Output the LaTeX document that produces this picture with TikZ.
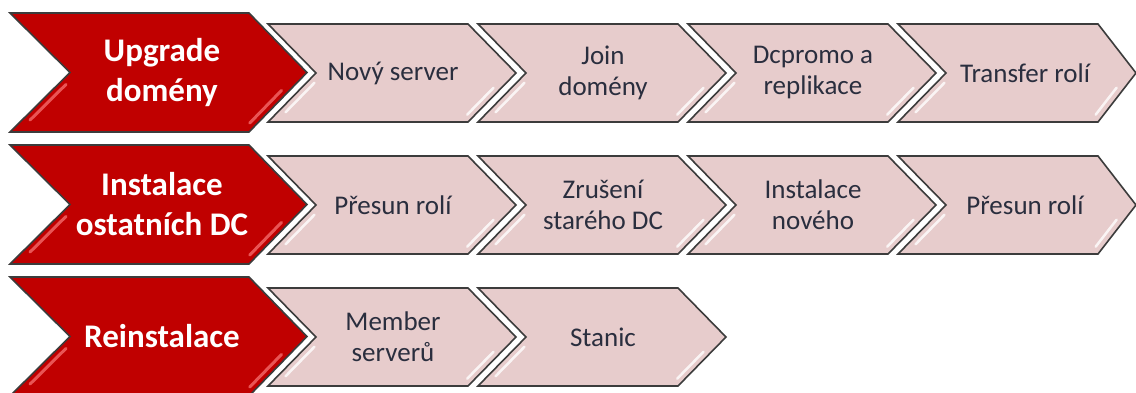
\documentclass[tikz,border=0pt]{standalone}
\usepackage{fontspec}
\setmainfont{Carlito}
\definecolor{redfill}{RGB}{192,0,0}
\definecolor{redhi}{RGB}{238,95,95}
\definecolor{pinkfill}{RGB}{231,204,204}
\definecolor{outl}{RGB}{60,60,60}
\definecolor{pinktxt}{RGB}{42,46,62}
\tikzset{
  halo/.style={draw=white, line width=6pt, line join=miter},
  redchev/.style={fill=redfill, draw=outl, line width=1.6pt, line join=miter},
  pinkchev/.style={fill=pinkfill, draw=outl, line width=1.6pt, line join=miter},
  redtext/.style={text=white, font=\bfseries\fontsize{33}{40}\selectfont, align=center, inner sep=0pt},
  pinktext/.style={text=pinktxt, font=\fontsize{27}{31}\selectfont, align=center, inner sep=0pt},
  pinkhl/.style={draw=white, line width=2.5pt, line cap=round, opacity=0.8},
  redhl/.style={draw=redhi, line width=3pt, line cap=round, opacity=0.9},
}
% #1 style, #2 left x, #3 centre y, #4 total width, #5 half height, #6 notch depth, #7 tip depth, #8 highlight style
\newcommand{\chevshape}[8]{%
  \draw[halo] (#2,#3-#5) -- ({#2+#4-#7},#3-#5) -- ({#2+#4},#3) -- ({#2+#4-#7},#3+#5) -- (#2,#3+#5) -- ({#2+#6},#3) -- cycle;
  \draw[#1] (#2,#3-#5) -- ({#2+#4-#7},#3-#5) -- ({#2+#4},#3) -- ({#2+#4-#7},#3+#5) -- (#2,#3+#5) -- ({#2+#6},#3) -- cycle;
  \draw[#8] ({#2+#6-0.2*#6+8},{#3+0.2*#5}) -- ({#2+#6-0.8*#6+8},{#3+0.8*#5});
  \draw[#8] ({#2+#4-0.3*#7-8},{#3+0.3*#5}) -- ({#2+#4-0.85*#7-8},{#3+0.85*#5});
}
\begin{document}
\begin{tikzpicture}[x=1pt,y=-1pt]
\useasboundingbox (0,0) rectangle (1136,392);
\clip (0,0) rectangle (1136,392);
\fill[white] (0,0) rectangle (1136,392);

% row 1
\chevshape{redchev}{10}{72.5}{297}{59.5}{60}{58}{redhl}
\chevshape{pinkchev}{268}{73}{248}{49}{48}{48}{pinkhl}
\chevshape{pinkchev}{478}{73}{248}{49}{48}{48}{pinkhl}
\chevshape{pinkchev}{688}{73}{248}{49}{48}{48}{pinkhl}
\chevshape{pinkchev}{898}{73}{238}{49}{48}{38}{pinkhl}
\node[redtext] (r1) at (162,72.5) {Upgrade\\domény};
\node[pinktext] (p11) at (393,73) {Nový server};
\node[pinktext] (p12) at (603,73) {Join\\domény};
\node[pinktext] (p13) at (813,73) {Dcpromo a\\replikace};
\node[pinktext] (p14) at (1025,73) {Transfer rolí};

% row 2
\chevshape{redchev}{10}{204.5}{297}{59.5}{60}{58}{redhl}
\chevshape{pinkchev}{268}{205}{248}{49}{48}{48}{pinkhl}
\chevshape{pinkchev}{478}{205}{248}{49}{48}{48}{pinkhl}
\chevshape{pinkchev}{688}{205}{248}{49}{48}{48}{pinkhl}
\chevshape{pinkchev}{898}{205}{238}{49}{48}{38}{pinkhl}
\node[redtext] (r2) at (162,204.5) {Instalace\\ostatních DC};
\node[pinktext] (p21) at (393,205) {Přesun rolí};
\node[pinktext] (p22) at (603,205) {Zrušení\\starého DC};
\node[pinktext] (p23) at (813,205) {Instalace\\nového};
\node[pinktext] (p24) at (1025,205) {Přesun rolí};

% row 3
\chevshape{redchev}{10}{336.5}{297}{59.5}{60}{58}{redhl}
\chevshape{pinkchev}{268}{337}{248}{49}{48}{48}{pinkhl}
\chevshape{pinkchev}{478}{337}{248}{49}{48}{48}{pinkhl}
\node[redtext] (r3) at (162,336.5) {Reinstalace};
\node[pinktext] (p31) at (393,337) {Member\\serverů};
\node[pinktext] (p32) at (603,337) {Stanic};
\end{tikzpicture}
\end{document}
